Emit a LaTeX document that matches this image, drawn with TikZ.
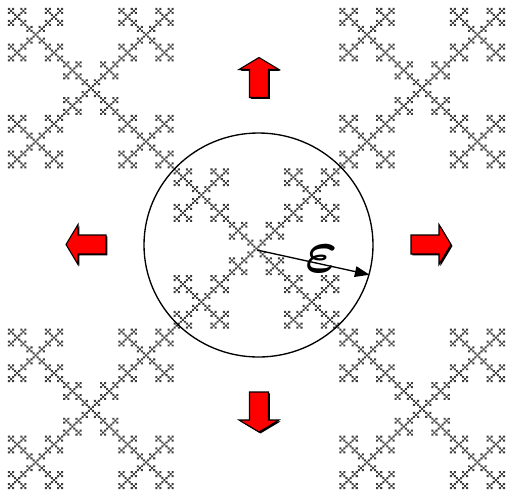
\documentclass[tikz,border=0pt]{standalone}
\usepackage{amsmath}
\usepackage{graphicx}
\usetikzlibrary{positioning, shapes.geometric, arrows.meta}

\definecolor{fractalgray}{RGB}{60, 60, 60}
\definecolor{pushred}{RGB}{255, 0, 0}
\def\vicsekoffsets{0/0,1/1,1/-1,-1/1,-1/-1}

\begin{document}
\begin{tikzpicture}[
    x=0.75pt, y=-0.75pt,
    % -------------------------------------------------
    % Node styles
    % -------------------------------------------------
    ball/.style={
        ellipse,
        draw=black,
        line width=1pt,
        minimum width=171.75pt,
        minimum height=168pt,
        inner sep=0pt
    },
    epslabel/.style={
        inner sep=0pt
    },
    % -------------------------------------------------
    % Push arrows
    % -------------------------------------------------
    pushbody/.style={
        fill=pushred,
        draw=black,
        line width=0.8pt,
        line join=miter
    },
    pushshadow/.style={
        fill=black,
        transform canvas={xshift=1.1pt, yshift=-1.1pt}
    },
    pusharrow/.pic={
        \fill[pushshadow] (-20,-9.5) -- (8,-9.5) -- (8,-20) -- (20,0)
            -- (8,20) -- (8,9.5) -- (-20,9.5) -- cycle;
        \draw[pushbody] (-20,-9.5) -- (8,-9.5) -- (8,-20) -- (20,0)
            -- (8,20) -- (8,9.5) -- (-20,9.5) -- cycle;
    },
    % -------------------------------------------------
    % Connections
    % -------------------------------------------------
    epsarrow/.style={
        -{Triangle[length=11pt, width=8pt]},
        line width=1pt,
        draw=black
    }
]

\useasboundingbox (0,0) rectangle (506,494);

% =====================================================
% Vicsek fractal
% =====================================================

\begin{scope}[shift={(256.5,248.5)}, x=1.534pt, y=-1.4846pt]
\fill[fractalgray]
    \foreach \a/\b in \vicsekoffsets {
    \foreach \c/\d in \vicsekoffsets {
    \foreach \e/\f in \vicsekoffsets {
    \foreach \g/\h in \vicsekoffsets {
    \foreach \i/\j in \vicsekoffsets {
        ({81*\a+27*\c+9*\e+3*\g+\i-0.5},{81*\b+27*\d+9*\f+3*\h+\j-0.5})
            rectangle ++(1,1)
    }}}}};
\end{scope}

% =====================================================
% Epsilon ball
% =====================================================

\node[ball] (ball) at (258.5,245) {};

\coordinate (origin) at (257,250);

\draw[epsarrow] (origin) -- (ball.-15);

\node[epslabel] (eps) at (321.5,259)
    {\scalebox{4.6}{$\boldsymbol{\varepsilon}$}};

% =====================================================
% Push arrows
% =====================================================

\pic[rotate=90] (up) at (259,77.5) {pusharrow};

\pic[rotate=-90] (down) at (259,412) {pusharrow};

\pic[rotate=180] (left) at (86,244.5) {pusharrow};

\pic (right) at (431,244.5) {pusharrow};

\end{tikzpicture}
\end{document}
